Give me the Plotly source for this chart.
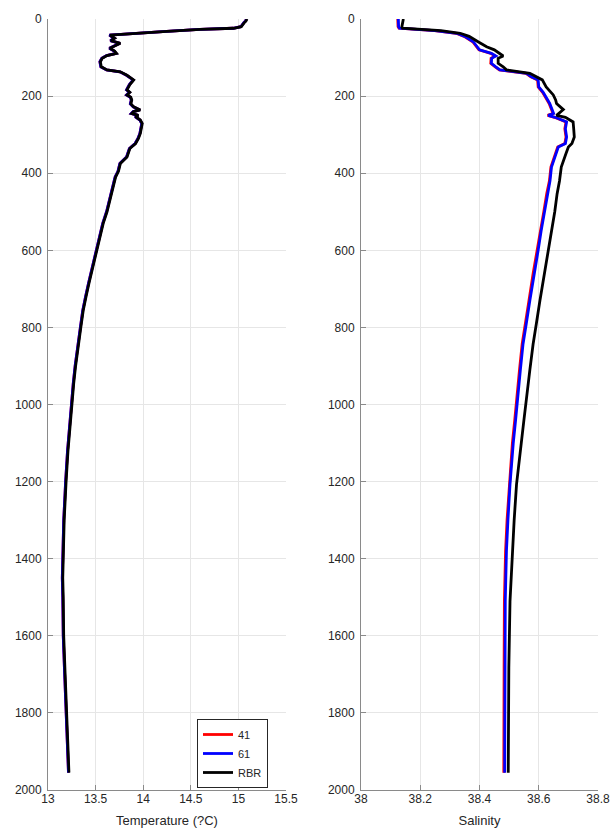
import plotly.graph_objects as go

# ---------------- data ----------------
depth_t = [0, 5, 10, 15, 20, 24, 27, 32, 38, 42, 50, 56, 63, 70, 76, 83, 89, 95, 102, 111,
           124, 132, 137, 146, 158, 170, 176, 184, 190, 197, 203, 210, 220, 228, 236, 240,
           245, 250, 253, 262, 271, 285, 297, 310, 323, 336, 345, 358, 375, 395, 410, 440,
           470, 500, 530, 570, 608, 650, 686, 720, 756, 800, 842, 900, 946, 1000, 1050,
           1120, 1200, 1300, 1400, 1450, 1500, 1600, 1700, 1800, 1900, 1955]

temp_rbr = [15.09, 15.08, 15.06, 15.04, 15.03, 14.95, 14.60, 14.25, 13.85, 13.65, 13.70,
            13.66, 13.76, 13.70, 13.65, 13.70, 13.72, 13.62, 13.57, 13.55, 13.56, 13.62,
            13.76, 13.83, 13.90, 13.86, 13.85, 13.83, 13.86, 13.83, 13.87, 13.88, 13.87,
            13.90, 13.97, 13.90, 13.88, 13.95, 13.92, 13.97, 13.99, 13.98, 13.97, 13.95,
            13.92, 13.86, 13.85, 13.83, 13.76, 13.74, 13.71, 13.68, 13.65, 13.62, 13.58,
            13.54, 13.50, 13.46, 13.43, 13.40, 13.37, 13.345, 13.32, 13.29, 13.27, 13.25,
            13.23, 13.21, 13.19, 13.17, 13.16, 13.155, 13.16, 13.165, 13.18, 13.195,
            13.21, 13.22]

temp_61 = [15.085, 15.075, 15.055, 15.035, 15.025, 14.945, 14.595, 14.245, 13.845, 13.645,
           13.695, 13.655, 13.755, 13.695, 13.645, 13.695, 13.715, 13.615, 13.565, 13.545,
           13.555, 13.615, 13.755, 13.825, 13.895, 13.855, 13.845, 13.825, 13.855, 13.825,
           13.865, 13.875, 13.865, 13.895, 13.965, 13.895, 13.875, 13.945, 13.915, 13.965,
           13.985, 13.975, 13.965, 13.945, 13.915, 13.855, 13.845, 13.825, 13.755, 13.735,
           13.705, 13.675, 13.645, 13.615, 13.575, 13.535, 13.495, 13.455, 13.425, 13.395,
           13.365, 13.34, 13.315, 13.285, 13.265, 13.245, 13.225, 13.205, 13.185, 13.165,
           13.155, 13.15, 13.155, 13.16, 13.175, 13.19, 13.205, 13.215]

temp_41 = [15.085, 15.075, 15.055, 15.035, 15.025, 14.945, 14.595, 14.245, 13.845, 13.645,
           13.695, 13.655, 13.755, 13.695, 13.645, 13.695, 13.715, 13.615, 13.565, 13.545,
           13.555, 13.615, 13.755, 13.825, 13.895, 13.855, 13.845, 13.825, 13.855, 13.825,
           13.865, 13.875, 13.865, 13.895, 13.965, 13.895, 13.875, 13.945, 13.915, 13.965,
           13.985, 13.975, 13.965, 13.945, 13.915, 13.855, 13.845, 13.825, 13.755, 13.735,
           13.705, 13.675, 13.645, 13.615, 13.575, 13.535, 13.495, 13.455, 13.425, 13.395,
           13.365, 13.34, 13.315, 13.285, 13.265, 13.245, 13.225, 13.205, 13.185, 13.165,
           13.155, 13.15, 13.155, 13.16, 13.175, 13.19, 13.205, 13.215]

depth_s = [0, 10, 20, 24, 30, 37, 45, 59, 65, 72, 80, 89, 96, 102, 115, 124, 132, 141,
           150, 158, 176, 190, 197, 210, 219, 235, 245, 250, 255, 267, 285, 306, 323, 332,
           349, 366, 384, 420, 453, 500, 550, 600, 660, 730, 790, 843, 910, 982, 1040,
           1100, 1207, 1300, 1380, 1510, 1683, 1892, 1955]

sal_61 = [38.126, 38.126, 38.127, 38.130, 38.250, 38.323, 38.350, 38.379, 38.385, 38.390,
          38.400, 38.440, 38.455, 38.441, 38.440, 38.455, 38.469, 38.559, 38.575, 38.598,
          38.600, 38.615, 38.620, 38.630, 38.637, 38.645, 38.650, 38.632, 38.655, 38.694,
          38.690, 38.694, 38.690, 38.666, 38.658, 38.650, 38.643, 38.638, 38.630, 38.620,
          38.608, 38.598, 38.584, 38.570, 38.558, 38.547, 38.538, 38.530, 38.522, 38.514,
          38.503, 38.496, 38.491, 38.487, 38.486, 38.485, 38.485]

sal_41 = [38.124, 38.124, 38.125, 38.128, 38.248, 38.321, 38.348, 38.377, 38.383, 38.388,
          38.398, 38.438, 38.453, 38.439, 38.438, 38.453, 38.467, 38.557, 38.573, 38.596,
          38.598, 38.613, 38.618, 38.628, 38.635, 38.643, 38.648, 38.630, 38.653, 38.692,
          38.688, 38.692, 38.688, 38.664, 38.656, 38.648, 38.641, 38.636, 38.627, 38.617,
          38.605, 38.595, 38.581, 38.567, 38.555, 38.544, 38.535, 38.527, 38.519, 38.511,
          38.500, 38.493, 38.488, 38.484, 38.483, 38.482, 38.482]

sal_rbr = [38.143, 38.140, 38.138, 38.140, 38.270, 38.335, 38.365, 38.395, 38.410, 38.424,
           38.450, 38.469, 38.480, 38.463, 38.463, 38.480, 38.491, 38.570, 38.590, 38.612,
           38.625, 38.640, 38.649, 38.657, 38.660, 38.683, 38.670, 38.660, 38.690, 38.716,
           38.718, 38.720, 38.712, 38.700, 38.692, 38.683, 38.676, 38.670, 38.662, 38.654,
           38.643, 38.632, 38.618, 38.604, 38.592, 38.581, 38.570, 38.558, 38.550, 38.541,
           38.525, 38.517, 38.511, 38.503, 38.499, 38.497, 38.497]

series_names = ["41", "61", "RBR"]
series_colors = ["#ff0000", "#0000ff", "#000000"]

temp_x_ticks = [13, 13.5, 14, 14.5, 15, 15.5]
sal_x_ticks = [38, 38.2, 38.4, 38.6, 38.8]
depth_ticks = [0, 200, 400, 600, 800, 1000, 1200, 1400, 1600, 1800, 2000]

# ---------------- figure ----------------
W, H = 611, 830
TOP, BOTTOM = 19, 790
fig = go.Figure()

temps = [temp_41, temp_61, temp_rbr]
sals = [sal_41, sal_61, sal_rbr]
for name, col, tv in zip(series_names, series_colors, temps):
    fig.add_trace(go.Scatter(x=tv, y=depth_t, mode="lines", name=name,
                             line=dict(color=col, width=2.8), xaxis="x", yaxis="y",
                             showlegend=True))
for name, col, sv in zip(series_names, series_colors, sals):
    fig.add_trace(go.Scatter(x=sv, y=depth_s, mode="lines", name=name,
                             line=dict(color=col, width=2.8), xaxis="x2", yaxis="y2",
                             showlegend=False))

axis_col = "#262626"
grid_col = "#e6e6e6"
tickfont = dict(family="Liberation Sans, Arial, sans-serif", size=12, color=axis_col)
common = dict(showline=True, linecolor="#8a8a8a", linewidth=1, ticks="inside", ticklen=5,
              tickcolor="#8a8a8a", showgrid=True, gridcolor=grid_col, gridwidth=1,
              zeroline=False, mirror=False, tickfont=tickfont, automargin=False)
xcommon = dict(common, ticklabelstandoff=-2)
ycommon = dict(common, ticklabelstandoff=3)
title_font = dict(family="Liberation Sans, Arial, sans-serif", size=13, color=axis_col)

fig.update_layout(
    width=W, height=H,
    margin=dict(l=0, r=0, t=TOP, b=H - BOTTOM, pad=0),
    paper_bgcolor="white", plot_bgcolor="white",
    font=dict(family="Liberation Sans, Arial, sans-serif", color=axis_col),
    xaxis=dict(domain=[48 / W, 286 / W], range=[13, 15.5], tickvals=temp_x_ticks,
               ticktext=[f"{v:g}" for v in temp_x_ticks], anchor="y",
               title=dict(text="Temperature (?C)", font=title_font, standoff=10),
               **xcommon),
    yaxis=dict(domain=[0, 1], range=[2000, 0], tickvals=depth_ticks, anchor="x",
               **ycommon),
    xaxis2=dict(domain=[361 / W, 598 / W], range=[38, 38.8], tickvals=sal_x_ticks,
                ticktext=[f"{v:g}" for v in sal_x_ticks], anchor="y2",
                title=dict(text="Salinity", font=title_font, standoff=10),
                **xcommon),
    yaxis2=dict(domain=[0, 1], range=[2000, 0], tickvals=depth_ticks, anchor="x2",
                **ycommon),
    legend=dict(x=197 / W, y=(BOTTOM - 753.5) / (BOTTOM - TOP), xanchor="left",
                yanchor="middle", bgcolor="white", bordercolor="#262626", borderwidth=1,
                font=dict(size=11, color=axis_col), itemwidth=30, tracegroupgap=0),
    showlegend=True,
)

# remove the default 8px page margin so the figure sits exactly in the window
fig.write_html(
    "out.html",
    config={"displayModeBar": False, "staticPlot": True},
    post_script="document.body.style.margin='0';"
                "document.documentElement.style.overflow='hidden';",
)
